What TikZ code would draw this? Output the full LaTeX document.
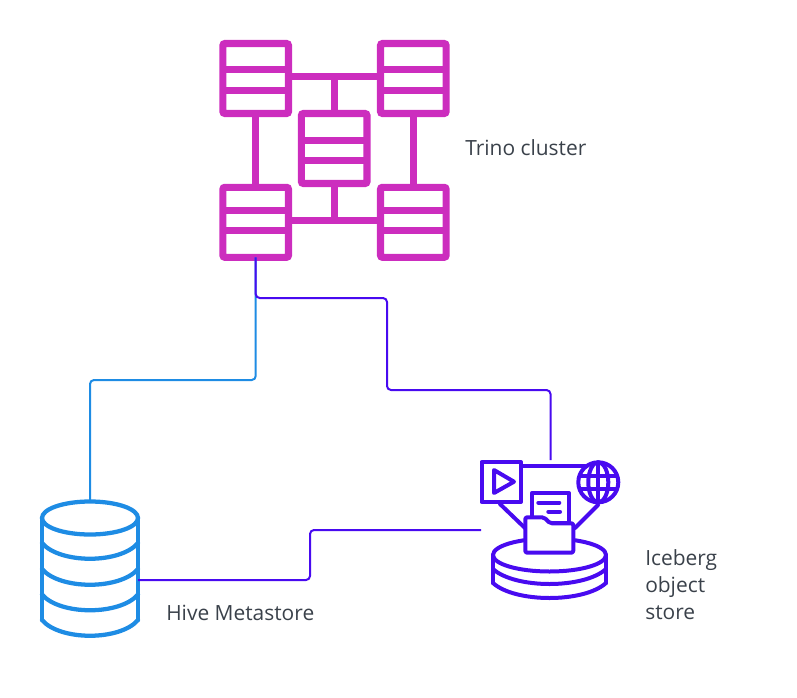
\documentclass[tikz,border=0pt]{standalone}
\usepackage{fontspec}
\setmainfont{Open Sans}
\usepackage{xcolor}
\usepackage{tikz}
\usetikzlibrary{positioning, calc}
\definecolor{mymagenta}{RGB}{204,45,190}
\definecolor{myblue}{RGB}{30,140,228}
\definecolor{myviolet}{RGB}{72,10,240}
\definecolor{mytext}{RGB}{58,65,74}
\tikzset{
  serverbox/.style={rectangle, draw=mymagenta, line width=5.3pt, rounded corners=1.5pt,
    minimum width=49.2pt, minimum height=52.5pt, outer sep=0pt, inner sep=0pt},
  serverline/.style={draw=mymagenta, line width=5.3pt},
  hiveline/.style={draw=myblue, line width=3.2pt, line join=round, line cap=round},
  iceline/.style={draw=myviolet, line width=3pt, line join=round, line cap=round},
  anchorbox/.style={rectangle, minimum size=0pt, outer sep=0pt, inner sep=0pt},
  bluelink/.style={draw=myblue, line width=1.5pt, rounded corners=3pt},
  violetlink/.style={draw=myviolet, line width=1.5pt, rounded corners=3pt},
  label/.style={text=mytext, font=\fontsize{15.7pt}{20.3pt}\selectfont, align=left, anchor=west, inner sep=0pt}
}
% box with its two row rules
\newcommand{\serverunit}[5]{
  \node[serverbox] (#1) at (#2,#3) {};
  \draw[serverline] (#1.west |- 0,#4) -- (#1.east |- 0,#4);
  \draw[serverline] (#1.west |- 0,#5) -- (#1.east |- 0,#5);
}
\begin{document}
\begin{tikzpicture}[x=0.75pt, y=-0.75pt]
  \useasboundingbox (0,0) rectangle (797,697);

  % Trino cluster
  \serverunit{topleft}{255.7}{78.5}{69.3}{90.3}
  \serverunit{topright}{413.3}{78.5}{69.3}{90.3}
  \serverunit{center}{334.2}{148.5}{140.7}{160.3}
  \serverunit{botleft}{255.7}{222.3}{210.7}{230.7}
  \serverunit{botright}{413.3}{222.3}{210.7}{230.7}
  \coordinate (topbar) at (334.7,76.7);
  \coordinate (botbar) at (334.7,220.7);
  \draw[serverline] (topleft.east |- topbar) -- (topright.west |- topbar);
  \draw[serverline] (botleft.east |- botbar) -- (botright.west |- botbar);
  \draw[serverline] (topbar) -- (topbar |- center.north);
  \draw[serverline] (botbar) -- (botbar |- center.south);
  \draw[serverline] (topleft) -- (botleft);
  \draw[serverline] (topright) -- (botright);
  \node[label] (trinolabel) at (465,148) {Trino cluster};

  % Hive Metastore
  \node[anchorbox, minimum width=72pt, minimum height=100.5pt] (hive) at (90,569) {};
  \draw[hiveline] (90,518) ellipse (48 and 16.5);
  \draw[hiveline] (42,518) -- (42,620) (138,518) -- (138,620);
  \foreach \y in {543,569,594.5,620}
    \draw[hiveline] (42,\y) .. controls (60,{\y+21}) and (120,{\y+21}) .. (138,\y);
  \node[label] (hivelabel) at (166,613) {Hive Metastore};

  % Iceberg object store
  \node[anchorbox, minimum width=104.25pt, minimum height=105pt] (iceberg) at (550.5,530) {};
  \draw[iceline] (521,466) -- (585,466);
  \draw[iceline] (500,504) -- (525,528);
  \draw[iceline] (598,505) -- (575,528);
  \draw[iceline] (481.5,462) rectangle (521,502);
  \draw[iceline] (494,470) -- (494,493) -- (514,481.7) -- cycle;
  \draw[iceline, fill=white] (598.3,482.3) circle (20);
  \draw[iceline] (598.3,482.3) ellipse (10 and 20);
  \draw[iceline] (598.3,462.3) -- (598.3,502.3);
  \draw[iceline] (580,475.7) -- (616.6,475.7) (580,489.3) -- (616.6,489.3);
  \draw[iceline, fill=white] (549.5,555) ellipse (56.5 and 16.5);
  \draw[iceline] (493,555) -- (493,583) (606,555) -- (606,583);
  \foreach \y in {569,583}
    \draw[iceline] (493,\y) .. controls (515,{\y+20}) and (584,{\y+20}) .. (606,\y);
  \draw[iceline, fill=white] (531.7,523) -- (531.7,493.3) -- (569,493.3) -- (569,523) -- cycle;
  \draw[iceline] (538.3,502.7) -- (559.3,502.7) (548.3,511.7) -- (560,511.7);
  \draw[iceline, fill=white, rounded corners=1.5pt] (525.3,517.3) -- (544,517.3) -- (550,523.3)
    -- (573.3,523.3) -- (573.3,552.7) -- (525.3,552.7) -- cycle;
  \node[label] (icelabel) at (645,585) {Iceberg\\object\\store};

  % connectors
  \draw[bluelink] (botleft.south) -- (botleft.south |- 0,380) -- (90,380) -- (hive.north);
  \draw[violetlink] (botleft.south) -- (botleft.south |- 0,298) -- (387,298) -- (387,390)
    -- (iceberg.north |- 0,390) -- (iceberg.north);
  \draw[violetlink] (hive.east |- 0,580) -- (310,580) -- (310,530) -- (iceberg.west);
\end{tikzpicture}
\end{document}
